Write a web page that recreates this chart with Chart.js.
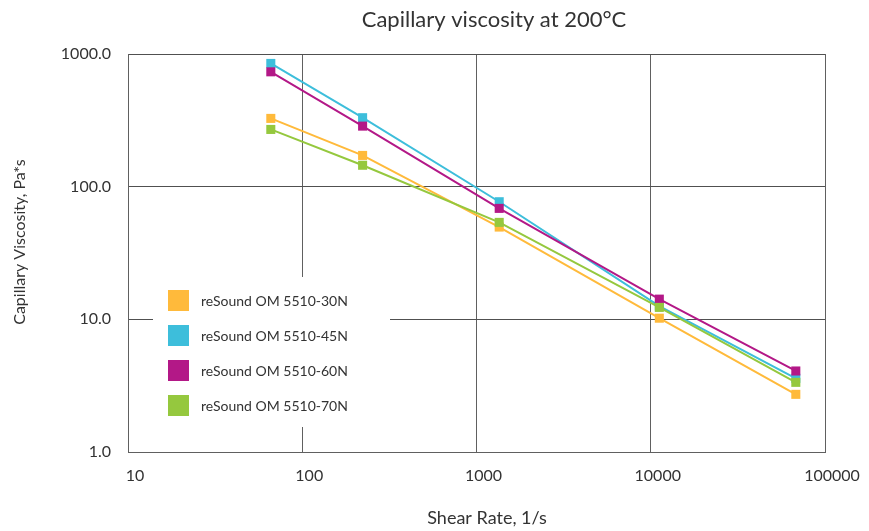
<!DOCTYPE html>
<html>
<head>
<meta charset="utf-8">
<script src="https://cdn.jsdelivr.net/npm/chart.js@4.4.1/dist/chart.umd.min.js"></script>
<style>
  html, body { margin: 0; padding: 0; background: #fff; }
</style>
</head>
<body>
<canvas id="myChart" width="869" height="531"></canvas>
<script>
// data
var shearRate = [66, 222, 1350, 11200, 68000];
var visc30N = [327, 172, 49.6, 10.2, 2.72];
var visc45N = [849, 331, 77, 12.6, 3.59];
var visc60N = [734, 286, 68.6, 14.2, 4.08];
var visc70N = [270, 145, 53.8, 12.3, 3.35];

var seriesNames = ['reSound OM 5510-30N', 'reSound OM 5510-45N', 'reSound OM 5510-60N', 'reSound OM 5510-70N'];
var seriesColors = ['#FFBA3B', '#3DBEDB', '#B31887', '#95C83E'];

var xTicks = [10, 100, 1000, 10000, 100000];
var yTicks = [1, 10, 100, 1000];

var titleText = 'Capillary viscosity at 200°C';
var xTitle = 'Shear Rate, 1/s';
var yTitle = 'Capillary Viscosity, Pa*s';

var FONT = 'Lato, "Noto Sans", sans-serif';

function pts(vals) {
    return vals.map(function (v, i) { return { x: shearRate[i], y: v }; });
}

var allVals = [visc30N, visc45N, visc60N, visc70N];
var datasets = allVals.map(function (vals, i) {
    return {
        label: seriesNames[i],
        data: pts(vals),
        borderColor: seriesColors[i],
        backgroundColor: seriesColors[i],
        borderWidth: 2,
        pointStyle: 'rect',
        pointRadius: 6.4,
        pointHoverRadius: 6.4,
        pointBorderWidth: 0,
        tension: 0,
        order: 4 - i   // last series on top
    };
});

// titles + legend box drawn by hand
var extras = {
    id: 'extras',
    afterDatasetsDraw: function (chart) {
        var ctx = chart.ctx;
        ctx.save();
        // white legend box over the grid
        ctx.fillStyle = '#fff';
        ctx.fillRect(153, 277, 237, 150);
        ctx.textBaseline = 'middle';
        ctx.textAlign = 'left';
        ctx.font = '14px ' + FONT;
        chart.data.datasets.forEach(function (ds, i) {
            var y = 290 + i * 35;
            ctx.fillStyle = ds.backgroundColor;
            ctx.fillRect(168, y, 21, 21);
            ctx.fillStyle = '#333';
            ctx.fillText(ds.label, 201, y + 11);
        });
        // chart title
        ctx.textAlign = 'center';
        ctx.fillStyle = '#333';
        ctx.font = '22px ' + FONT;
        ctx.fillText(titleText, 494, 20);
        // axis titles
        ctx.font = '18px ' + FONT;
        ctx.fillText(xTitle, 487, 518);
        ctx.font = '16px ' + FONT;
        ctx.translate(20, 242);
        ctx.rotate(-Math.PI / 2);
        ctx.fillText(yTitle, 0, 0);
        ctx.restore();
    }
};

var ctx = document.getElementById('myChart').getContext('2d');
var myChart = new Chart(ctx, {
    type: 'line',
    data: { datasets: datasets },
    options: {
        responsive: false,
        animation: false,
        devicePixelRatio: 1,
        layout: { padding: { left: 0, right: 44, top: 54, bottom: 0 } },
        scales: {
            x: {
                type: 'logarithmic',
                min: 10,
                max: 100000,
                afterBuildTicks: function (s) { s.ticks = xTicks.map(function (v) { return { value: v }; }); },
                afterFit: function (s) { s.height = 79; },
                grid: { color: '#606060', lineWidth: 1, drawTicks: false },
                border: { color: '#606060', width: 1 },
                ticks: {
                    padding: 14,
                    labelOffset: 7,
                    color: '#333',
                    font: { family: FONT, size: 16 },
                    maxRotation: 0,
                    autoSkip: false,
                    callback: function (v) { return String(v); }
                }
            },
            y: {
                type: 'logarithmic',
                min: 1,
                max: 1000,
                afterBuildTicks: function (s) { s.ticks = yTicks.map(function (v) { return { value: v }; }); },
                afterFit: function (s) { s.width = 128; },
                grid: { color: '#505050', lineWidth: 1, drawTicks: false },
                border: { color: '#606060', width: 1 },
                ticks: {
                    padding: 17,
                    color: '#333',
                    font: { family: FONT, size: 16 },
                    autoSkip: false,
                    callback: function (v) { return Number(v).toFixed(1); }
                }
            }
        },
        plugins: {
            legend: { display: false },
            title: { display: false },
            tooltip: { enabled: false }
        }
    },
    plugins: [extras]
});
</script>
</body>
</html>
